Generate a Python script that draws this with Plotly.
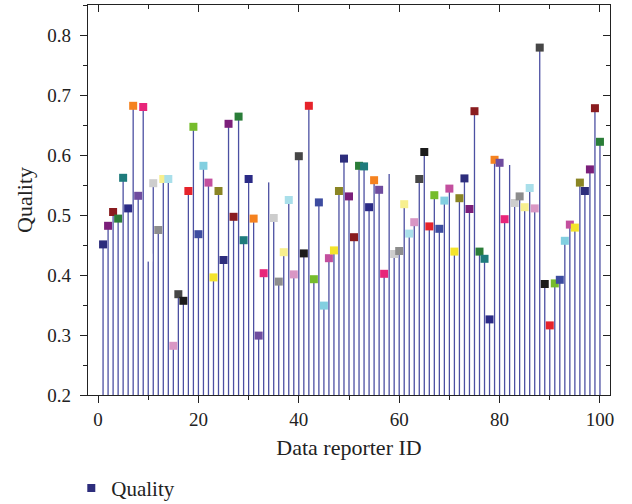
import plotly.graph_objects as go

# Data reporter IDs and their quality scores
reporter_id = list(range(1, 101))
quality = [
    0.451, 0.482, 0.505, 0.494, 0.562, 0.511, 0.682, 0.532, 0.680, 0.429,
    0.553, 0.475, 0.560, 0.560, 0.282, 0.368, 0.357, 0.540, 0.647, 0.468,
    0.582, 0.554, 0.396, 0.540, 0.425, 0.652, 0.497, 0.664, 0.458, 0.560,
    0.494, 0.299, 0.403, 0.561, 0.495, 0.389, 0.438, 0.525, 0.401, 0.598,
    0.436, 0.682, 0.393, 0.521, 0.349, 0.428, 0.441, 0.540, 0.594, 0.531,
    0.463, 0.582, 0.581, 0.513, 0.558, 0.542, 0.402, 0.575, 0.435, 0.440,
    0.518, 0.469, 0.488, 0.560, 0.605, 0.481, 0.533, 0.477, 0.524, 0.544,
    0.439, 0.528, 0.561, 0.510, 0.673, 0.439, 0.427, 0.326, 0.592, 0.587,
    0.493, 0.590, 0.520, 0.531, 0.513, 0.545, 0.511, 0.779, 0.385, 0.316,
    0.386, 0.392, 0.457, 0.484, 0.479, 0.554, 0.540, 0.576, 0.678, 0.622,
]

# Repeating 24-colour marker palette
palette = [
    "#2d2d7c", "#7b1f7a", "#8a1c1f", "#2a7d38", "#1e7b7c", "#2b2b86",
    "#f5821f", "#6f4c9f", "#e8257a", "#ffffff", "#cdcdcd", "#8d8d8d",
    "#f7ef8e", "#a9dfea", "#d996c4", "#464646", "#1b1b1b", "#e6232a",
    "#76bc2c", "#3d4ca0", "#82cfe0", "#c34f9e", "#f4e42b", "#8a8524",
]
marker_colors = [palette[i % len(palette)] for i in range(len(quality))]

y_base = 0.2
x_range = [-2, 102]
y_range = [0.2, 0.85]

# Drop lines from the baseline up to each value
stem_x, stem_y = [], []
for xi, yi in zip(reporter_id, quality):
    stem_x += [xi, xi, None]
    stem_y += [y_base, yi, None]

font_family = "Liberation Serif"

fig = go.Figure()
fig.add_trace(go.Scatter(
    x=stem_x, y=stem_y, mode="lines",
    line=dict(color="#4c50a2", width=1.3),
    showlegend=False, hoverinfo="skip",
))
fig.add_trace(go.Scatter(
    x=reporter_id, y=quality, mode="markers", name="Quality",
    marker=dict(symbol="square", size=8, color=marker_colors, line=dict(width=0)),
    xaxis="x2", yaxis="y2",
))

axis_common = dict(
    showgrid=False, zeroline=False, showline=True,
    linecolor="#222222", linewidth=1.3, tickcolor="#222222", tickwidth=1.2,
)

fig.update_layout(
    width=632, height=504,
    margin=dict(l=88, r=22, t=5, b=109, autoexpand=False),
    paper_bgcolor="white", plot_bgcolor="white",
    font=dict(family=font_family, size=18, color="#222222"),
    xaxis=dict(
        range=x_range, dtick=20, tick0=0, ticks="outside", ticklen=7,
        tickfont=dict(size=19),
        minor=dict(dtick=10, tick0=0, ticks="outside", ticklen=4,
                   tickcolor="#222222", tickwidth=1.2),
        title=dict(text="Data reporter ID", standoff=10),
        **axis_common,
    ),
    yaxis=dict(
        range=y_range, dtick=0.1, tick0=0.2, ticks="outside", ticklen=7,
        tickformat=".1f", tickfont=dict(size=19), ticklabelstandoff=5,
        minor=dict(dtick=0.05, tick0=0.2, ticks="outside", ticklen=4,
                   tickcolor="#222222", tickwidth=1.2),
        title=dict(text="Quality", standoff=8),
        **axis_common,
    ),
    xaxis2=dict(
        range=x_range, overlaying="x", side="top", anchor="y2",
        dtick=20, tick0=0, ticks="inside", ticklen=7, showticklabels=False,
        minor=dict(dtick=10, tick0=0, ticks="inside", ticklen=4,
                   tickcolor="#222222", tickwidth=1.2),
        **axis_common,
    ),
    yaxis2=dict(
        range=y_range, overlaying="y", side="right", anchor="x2",
        dtick=0.1, tick0=0.2, ticks="inside", ticklen=7, showticklabels=False,
        minor=dict(dtick=0.05, tick0=0.2, ticks="inside", ticklen=4,
                   tickcolor="#222222", tickwidth=1.2),
        **axis_common,
    ),
    legend=dict(
        orientation="h", x=-0.032, xanchor="left", y=-0.187, yanchor="top",
        font=dict(family=font_family, size=21), bgcolor="rgba(0,0,0,0)",
    ),
)

fig.write_html("out.html")
